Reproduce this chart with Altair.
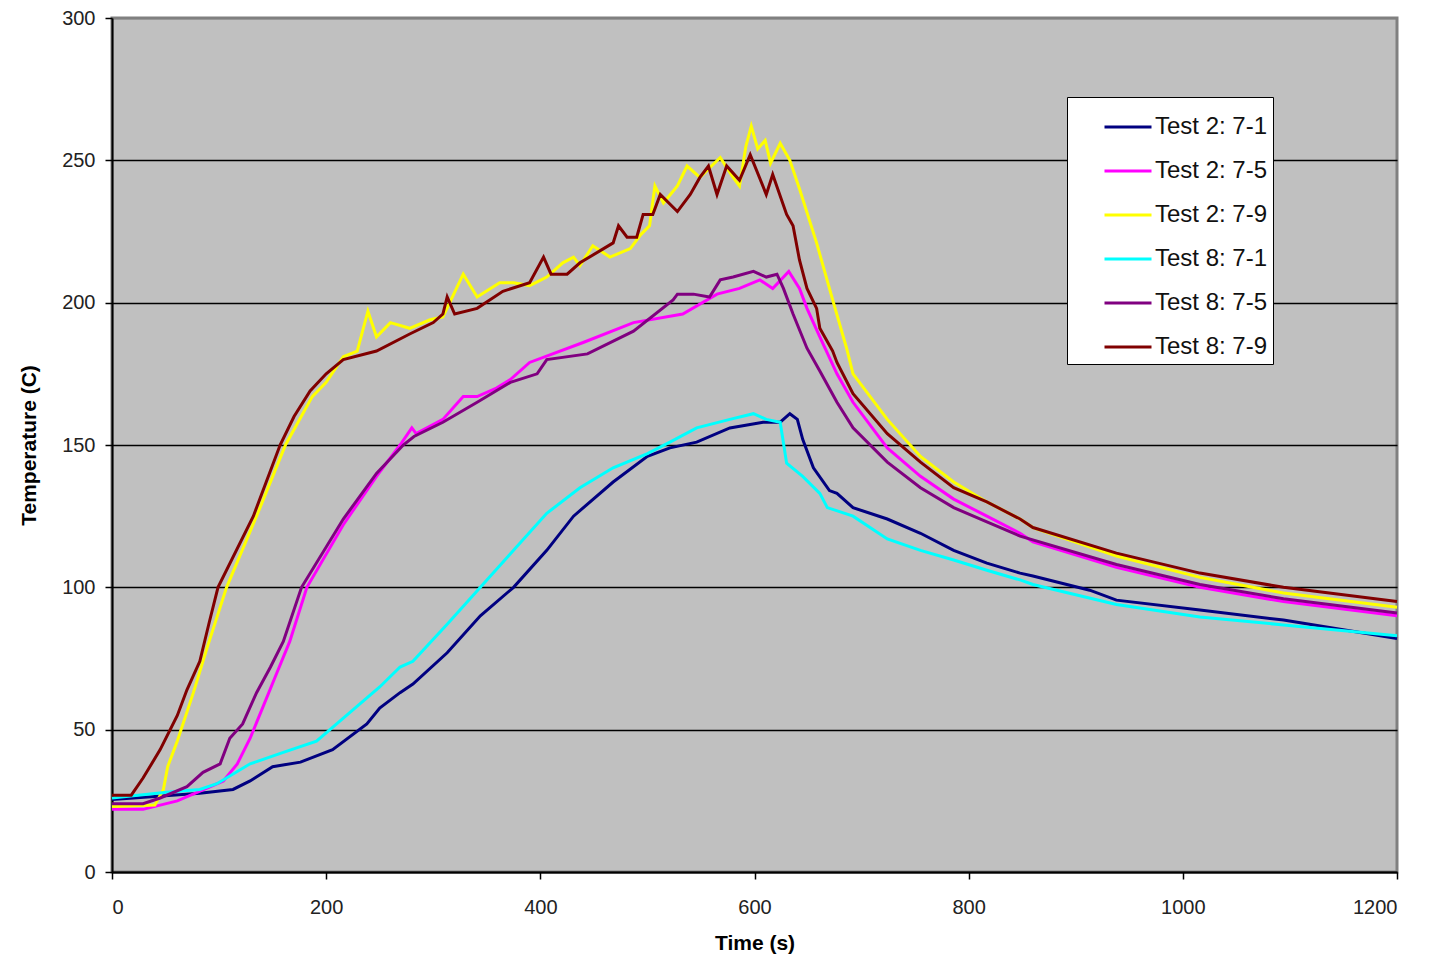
import altair as alt
import pandas as pd

# ---- data ----
series_names = ["Test 2: 7-1", "Test 2: 7-5", "Test 2: 7-9",
                "Test 8: 7-1", "Test 8: 7-5", "Test 8: 7-9"]
series_colors = ["#000080", "#FF00FF", "#FFFF00", "#00FFFF", "#800080", "#800000"]

t2_71_time = [0, 40, 82, 113, 129, 150, 176, 206, 238, 250, 269, 281, 313, 344, 375, 406, 431, 468,
              500, 521, 546, 577, 608, 624, 633, 640, 645, 655, 670, 677, 692, 724, 755, 786, 817,
              848, 860, 913, 938, 1016, 1094, 1200]
t2_71_temp = [25.5, 26.5, 27.7, 29, 32, 37, 38.6, 43, 52, 57.6, 63, 66, 77, 90, 100, 113, 125, 137,
              146, 149, 151, 156, 158, 158, 161, 159, 152, 142, 134, 133, 128, 124, 119, 113, 108.5,
              105, 104, 99, 95.5, 92, 88.5, 82]

t8_71_time = [0, 51, 82, 98, 129, 160, 191, 222, 250, 269, 281, 313, 344, 375, 406, 437, 468, 500,
              521, 546, 577, 599, 611, 624, 630, 645, 661, 668, 692, 724, 755, 786, 817, 848, 860,
              938, 1016, 1094, 1200]
t8_71_temp = [26, 28, 29, 31, 38, 42, 46, 56, 65, 72, 74, 87, 100, 113, 126, 135, 142, 147,
              151, 156, 159, 161, 159, 158, 143.6, 139, 133, 128, 125, 117, 113, 109.6, 106, 102.6, 101,
              94, 89.6, 86.8, 83]

t2_75_time = [0, 29, 61, 92, 104, 117, 129, 141, 154, 166, 182, 216, 247, 269, 280, 284, 309, 328,
              341, 359, 372, 390, 440, 487, 533, 565, 586, 605, 617, 632, 642, 649, 661, 677, 692,
              724, 755, 786, 817, 848, 860, 938, 1016, 1094, 1200]
t2_75_temp = [22, 22, 25, 30, 32, 38, 47, 58, 70, 81, 100, 122, 139, 150, 156, 154, 159, 167,
              167, 170, 173, 179, 186, 193, 196, 203, 205, 208, 205, 211, 205, 198, 188, 175, 165,
              149, 139, 131, 125, 119, 116, 107, 100, 95, 90]

t8_75_time = [0, 29, 45, 70, 85, 101, 110, 122, 135, 148, 160, 177, 216, 247, 272, 282, 309, 341,
              372, 397, 406, 444, 487, 524, 528, 543, 558, 568, 580, 599, 611, 621, 627, 636, 649,
              661, 677, 692, 724, 755, 786, 817, 848, 938, 1016, 1094, 1200]
t8_75_temp = [24, 24, 26, 30, 35, 38, 47, 52, 63, 72, 81, 100, 124, 140, 150, 153, 158, 165,
              172, 175, 180, 182, 190, 201, 203, 203, 202, 208, 209, 211, 209, 210, 205, 196, 184,
              176, 165, 156, 144, 135, 128, 123, 118, 108, 101, 96, 91]

t2_79_time = [0, 40, 48, 52, 61, 76, 89, 107, 135, 162, 187, 200, 216, 229, 239, 247, 260, 278,
              297, 309, 328, 341, 362, 375, 390, 406, 421, 431, 437, 449, 465, 484, 494, 502, 507,
              515, 528, 537, 549, 568, 580, 586, 592, 597, 603, 610, 615, 624, 633, 642, 658, 673,
              686, 692, 724, 755, 786, 817, 848, 860, 938, 1016, 1094, 1200]
t2_79_temp = [23, 23.5, 29, 37, 46, 63, 79, 100, 125, 150, 167, 172, 181, 183, 197, 188, 193, 191,
              194, 195, 210, 202, 207, 207, 206, 209, 214, 216, 213, 220, 216, 219, 224, 227, 241,
              235, 241, 248, 244, 251, 244, 241, 255, 262, 254, 257, 249, 256, 250, 240, 221, 201,
              184, 175, 159, 146, 137, 130, 124, 121, 111, 103.5, 98, 93]

t8_79_time = [0, 18, 29, 45, 61, 70, 82, 91, 99, 132, 157, 170, 185, 200, 216, 247, 278, 300,
              309, 313, 320, 341, 365, 390, 403, 410, 425, 437, 468, 473, 481, 490, 496, 505, 512,
              528, 540, 549, 557, 565, 574, 586, 596, 611, 617, 630, 636, 642, 649, 658, 661, 673,
              677, 692, 724, 755, 786, 817, 848, 860, 938, 1016, 1094, 1200]
t8_79_temp = [27, 27, 33, 43, 55, 64, 74, 88, 100, 125, 150, 160, 169, 175, 180, 183, 189, 193,
              196, 202, 196, 198, 204, 207, 216, 210, 210, 214, 221, 227, 223, 223, 231, 231, 238,
              232, 238, 244, 248, 238, 248, 243, 252, 238, 245, 231, 227, 215, 205, 198, 191, 183,
              179, 168, 154, 144, 135, 130, 124, 121, 112, 105, 100, 95]

x_ticks = [0, 200, 400, 600, 800, 1000, 1200]
y_ticks = [0, 50, 100, 150, 200, 250, 300]

series_data = [
    (series_names[0], t2_71_time, t2_71_temp),
    (series_names[1], t2_75_time, t2_75_temp),
    (series_names[2], t2_79_time, t2_79_temp),
    (series_names[3], t8_71_time, t8_71_temp),
    (series_names[4], t8_75_time, t8_75_temp),
    (series_names[5], t8_79_time, t8_79_temp),
]

rows = []
for name, ts, vs in series_data:
    for i, (t, v) in enumerate(zip(ts, vs)):
        rows.append({"series": name, "time": t, "temp": v, "idx": i})
df = pd.DataFrame(rows)

FONT = "Liberation Sans"

chart = alt.Chart(df).mark_line(strokeWidth=3, interpolate="linear").encode(
    x=alt.X("time:Q",
            scale=alt.Scale(domain=[0, 1200], nice=False, zero=False),
            axis=alt.Axis(title="Time (s)", values=x_ticks, grid=False, format="d",
                          labelPadding=18, titlePadding=15)),
    y=alt.Y("temp:Q",
            scale=alt.Scale(domain=[0, 300], nice=False),
            axis=alt.Axis(title="Temperature (C)", values=y_ticks, grid=True, format="d",
                          gridColor=alt.condition("datum.value === 300",
                                                  alt.value("#808080"), alt.value("#000000")),
                          gridWidth=1.5,
                          labelPadding=10, titlePadding=22)),
    color=alt.Color("series:N",
                    scale=alt.Scale(domain=series_names, range=series_colors),
                    legend=alt.Legend(title=None, orient="none", legendX=955, legendY=79,
                                      fillColor="white", strokeColor="black",
                                      padding=5, symbolType="stroke",
                                      symbolStrokeWidth=3, symbolSize=2209,
                                      symbolOffset=31,
                                      labelFontSize=24, labelFont=FONT, labelColor="#111",
                                      rowPadding=7, labelOffset=2)),
    order=alt.Order("idx:Q"),
).properties(
    width=1285,
    height=854,
    background="white",
    autosize=alt.AutoSizeParams(type="none"),
    padding={"left": 104, "top": 10, "right": 20, "bottom": 84},
).configure_view(
    fill="#C0C0C0", stroke="#808080", strokeWidth=3
).configure_axis(
    domainColor="#000000", domainWidth=2, tickColor="#000000", tickSize=7, tickWidth=1.5,
    labelFont=FONT, labelFontSize=20, labelColor="#222222",
    titleFont=FONT, titleFontSize=21, titleFontWeight="bold", titleColor="#000000",
)

chart.save("out.html", embed_options={"renderer": "svg", "actions": False})
